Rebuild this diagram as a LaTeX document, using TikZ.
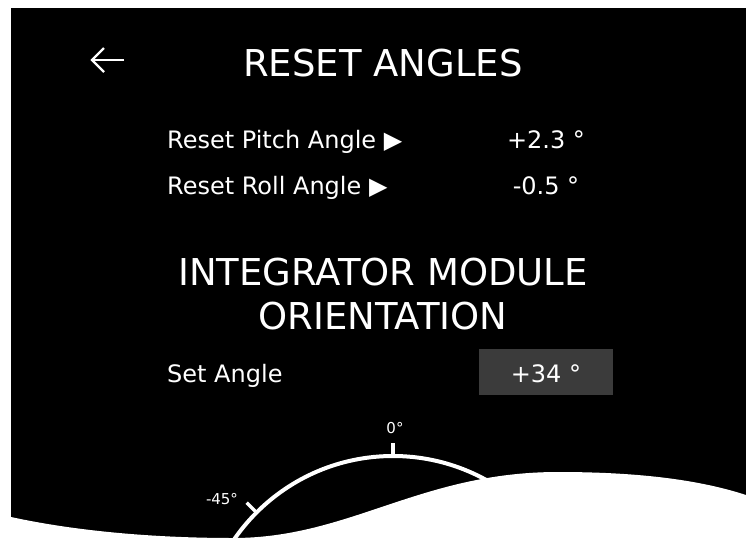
\documentclass[tikz,border=0pt]{standalone}
\usetikzlibrary{calc}
\usepackage{fontspec}
\setmainfont{DejaVu Sans}
\begin{document}
\begin{tikzpicture}[x=1pt,y=-1pt,
  txt/.style={text=white,inner sep=0pt,font=\fontsize{24}{28}\selectfont},
  big/.style={text=white,inner sep=0pt,font=\fontsize{37}{42}\selectfont},
  small/.style={text=white,inner sep=0pt,font=\fontsize{15}{17}\selectfont}]
\useasboundingbox (0,0) rectangle (756,547);
\fill[white] (0,0) rectangle (756,547);
\fill[black] (11,8) rectangle (746,547);
% back arrow
\coordinate (at) at (92,60); \coordinate (ae) at (124,60);
\draw[white,line width=2.2pt] (ae) -- (at);
\draw[white,line width=2.2pt,line join=miter] (104,48) -- (at) -- (104,72);
\node[big,anchor=base] (title) at (383,76) {RESET ANGLES};
\node[txt,anchor=base west] (pitch) at (167,148) {Reset Pitch Angle ▶};
\node[txt,anchor=base] (pv) at (546,148) {+2.3 °};
\node[txt,anchor=base west] (roll) at (167,194) {Reset Roll Angle ▶};
\node[txt,anchor=base] (rv) at (546,194) {-0.5 °};
\node[big,anchor=base] (integ) at (383,285) {INTEGRATOR MODULE};
\node[big,anchor=base] (orient) at (383,329) {ORIENTATION};
\node[txt,anchor=base west] (set) at (167,382) {Set Angle};
\fill[black!77!white] (479,349) rectangle (613,395);
\node[txt,anchor=base] (sv) at (546,382) {+34 °};
% gauge
\coordinate (gc) at (393,649);
\draw[white,line width=4pt] (gc) circle[radius=193];
\draw[white,line width=3.5pt] (393,458) -- (393,443);
\draw[white,line width=3.5pt] ($(gc)+(225:193)$) -- ($(gc)+(225:207)$);
\node[small,anchor=base] (z) at (395,433) {0°};
\node[small,anchor=base] (m45) at (222,504) {-45°};
% wave
\fill[white] (11,517) .. controls (80,532) and (160,538) .. (233,538)
  .. controls (350,538) and (420,472) .. (558,472)
  .. controls (640,472) and (700,480) .. (746,495) -- (746,547) -- (11,547) -- cycle;
\end{tikzpicture}
\end{document}
